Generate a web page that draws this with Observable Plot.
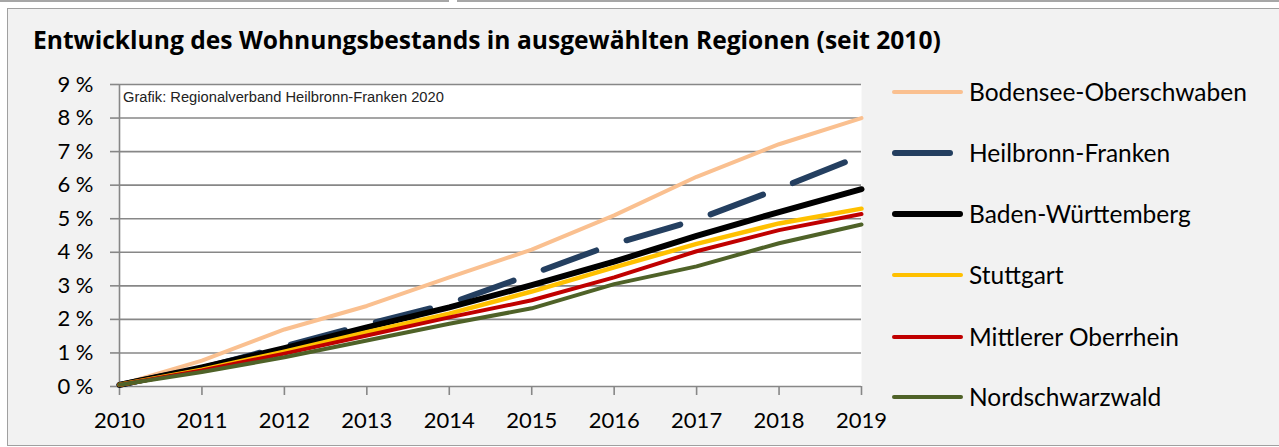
<!DOCTYPE html>
<html><head><meta charset="utf-8">
<script src="https://cdn.jsdelivr.net/npm/d3@7"></script>
<script src="https://cdn.jsdelivr.net/npm/@observablehq/plot@0.6"></script>
<style>
html,body{margin:0;padding:0;background:#fff;width:1279px;height:447px;overflow:hidden;font-family:Lato,sans-serif;}
#topline1{position:absolute;left:0;top:0;width:449px;height:2px;background:#a6a6a6;}
#topline2{position:absolute;left:457px;top:0;width:822px;height:2px;background:#a6a6a6;}
#frame{position:absolute;left:7px;top:8px;width:1300px;height:438px;border:1.5px solid #a0a0a0;background:#f2f2f2;box-sizing:border-box;}
#title{position:absolute;left:33px;top:25px;font-family:"Open Sans",sans-serif;font-weight:bold;font-size:24.6px;line-height:1.2;color:#000;white-space:nowrap;}
#note{position:absolute;left:123px;top:90px;font-family:"Liberation Sans",Arial,sans-serif;font-size:14.7px;line-height:1;color:#222;white-space:nowrap;}
#chart{position:absolute;left:0;top:60px;}
.lg-line{position:absolute;}
.lg-text{position:absolute;left:969px;font-size:24.5px;line-height:1.2;color:#000;white-space:nowrap;}
</style>
</head><body>
<div id="topline1"></div><div id="topline2"></div>
<div id="frame"></div>
<div id="title">Entwicklung des Wohnungsbestands in ausgewählten Regionen (seit 2010)</div>
<div id="chart"></div>
<div id="note">Grafik: Regionalverband Heilbronn-Franken 2020</div>
<div id="legend"></div>
<script>
const years = [2010, 2011, 2012, 2013, 2014, 2015, 2016, 2017, 2018, 2019];
const yTicks = [0, 1, 2, 3, 4, 5, 6, 7, 8, 9];
const regions = ["Bodensee-Oberschwaben", "Heilbronn-Franken", "Baden-Württemberg", "Stuttgart", "Mittlerer Oberrhein", "Nordschwarzwald"];
const bodensee   = [0.05, 0.77, 1.70, 2.40, 3.25, 4.08, 5.10, 6.25, 7.22, 8.00];
const heilbronn  = [0.05, 0.55, 1.20, 1.85, 2.47, 3.35, 4.25, 4.97, 5.90, 6.88];
const bawue      = [0.05, 0.57, 1.14, 1.76, 2.36, 3.02, 3.72, 4.49, 5.20, 5.88];
const stuttgart  = [0.05, 0.50, 1.04, 1.62, 2.17, 2.83, 3.55, 4.25, 4.86, 5.30];
const mittlerer  = [0.05, 0.48, 0.98, 1.52, 2.06, 2.57, 3.25, 4.03, 4.66, 5.14];
const nordschw   = [0.05, 0.43, 0.87, 1.37, 1.87, 2.33, 3.05, 3.58, 4.27, 4.83];
const seriesValues = [bodensee, heilbronn, bawue, stuttgart, mittlerer, nordschw];
const colors = ["#fac090", "#243f60", "#000000", "#ffc000", "#c00000", "#4f6228"];

const styles = [
  {w: 4, dash: null},
  {w: 6, dash: "56,32"},
  {w: 6, dash: null},
  {w: 4.5, dash: null},
  {w: 4, dash: null},
  {w: 4, dash: null}
];
const legendRows = [92, 153, 214, 275, 337, 397];

const data = regions.flatMap((r, i) => years.map((y, j) => ({region: r, year: y, value: seriesValues[i][j]})));

const gridColor = "#878787";
const lineMarks = regions.map((r, i) => Plot.line(data.filter(d => d.region === r), {
  x: "year", y: "value", stroke: colors[i], strokeWidth: styles[i].w,
  strokeDasharray: styles[i].dash, strokeLinecap: "round", strokeLinejoin: "round"
}));

const chart = Plot.plot({
  width: 880, height: 387,
  marginLeft: 119, marginRight: 19, marginTop: 24, marginBottom: 61,
  style: {background: "transparent", fontFamily: "Lato, sans-serif", fontSize: "22px", color: "#000", overflow: "visible"},
  x: {domain: [2010, 2019]},
  y: {domain: [0, 9]},
  marks: [
    Plot.frame({fill: "white", stroke: null}),
    Plot.gridY(yTicks, {stroke: gridColor, strokeOpacity: 1, strokeWidth: 1.6}),
    Plot.axisY(yTicks, {tickSize: 9, tickPadding: 17, stroke: gridColor, strokeWidth: 1.6, fill: "#000", tickFormat: d => d + " %", label: null}),
    Plot.ruleX([2010], {stroke: gridColor, strokeWidth: 1.6}),
    Plot.axisX(years, {tickSize: 9, tickPadding: 17, stroke: gridColor, strokeWidth: 1.6, fill: "#000", tickFormat: d => String(d), label: null}),
    ...lineMarks
  ]
});
document.getElementById("chart").appendChild(chart);

const legend = document.getElementById("legend");
regions.forEach((r, i) => {
  const w = styles[i].w;
  const len = styles[i].dash ? 61 : 71;
  const ln = document.createElement("div");
  ln.className = "lg-line";
  ln.style.left = "892px";
  ln.style.width = len + "px";
  ln.style.height = w + "px";
  ln.style.top = (legendRows[i] - w / 2) + "px";
  ln.style.background = colors[i];
  ln.style.borderRadius = (w / 2) + "px";
  legend.appendChild(ln);
  const tx = document.createElement("div");
  tx.className = "lg-text";
  tx.textContent = r;
  tx.style.top = (legendRows[i] - 15.3) + "px";
  legend.appendChild(tx);
});
</script>
</body></html>
